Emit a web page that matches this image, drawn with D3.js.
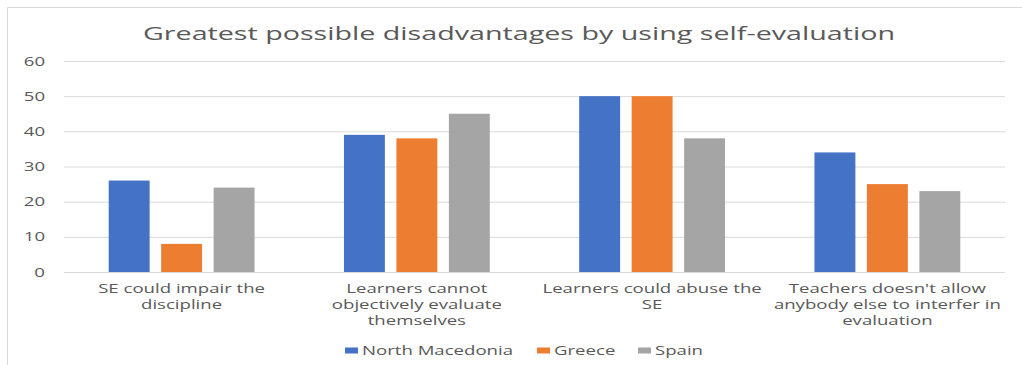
<!DOCTYPE html>
<html>
<head>
<meta charset="utf-8">
<script src="https://cdn.jsdelivr.net/npm/d3@7"></script>
<style>
  html, body { margin: 0; padding: 0; background: #fff; }
  svg { display: block; }
  text { font-family: "Open Sans", "Segoe UI", sans-serif; fill: #595959; }
</style>
</head>
<body>
<svg id="chart" width="1022" height="365"></svg>
<script>
const titleText = "Greatest possible disadvantages by using self-evaluation";
const categories = [
  ["SE could impair the", "discipline"],
  ["Learners cannot", "objectively evaluate", "themselves"],
  ["Learners could abuse the", "SE"],
  ["Teachers doesn't allow", "anybody else to interfer in", "evaluation"]
];
const seriesNames = ["North Macedonia", "Greece", "Spain"];
const northMacedonia = [26, 39, 50, 34];
const greece = [8, 38, 50, 25];
const spain = [24, 45, 38, 23];
const yTicks = [0, 10, 20, 30, 40, 50, 60];
const colors = ["#4472C4", "#ED7D31", "#A5A5A5"];

const seriesValues = [northMacedonia, greece, spain];
const catKeys = categories.map(c => c.join(" "));

const svg = d3.select("#chart");

// chart border (top and left visible)
svg.append("path")
  .attr("d", "M7.5,365 V7.5 H1022")
  .attr("fill", "none").attr("stroke", "#d9d9d9").attr("stroke-width", 1);

const plotLeft = 64, plotRight = 1005, plotTop = 61, plotBottom = 272;

const x0 = d3.scaleBand().domain(catKeys).range([plotLeft, plotRight])
  .paddingInner(0.38).paddingOuter(0.19);
const x1 = d3.scaleBand().domain(seriesNames).range([0, x0.bandwidth()])
  .paddingInner(0.22);
const y = d3.scaleLinear().domain([0, 60]).range([plotBottom, plotTop]);

// helper to stretch text horizontally like the reference
function stretch(sel, k) {
  sel.each(function() {
    const w = this.getComputedTextLength();
    d3.select(this).attr("textLength", w * k).attr("lengthAdjust", "spacingAndGlyphs");
  });
}

// measure factor for small text
const probe = svg.append("text").attr("font-size", 12.5).text("North Macedonia");
const kSmall = 151 / probe.node().getComputedTextLength();
probe.remove();

// gridlines + y labels via axis
const yAxis = d3.axisLeft(y).tickValues(yTicks).tickSize(-(plotRight - plotLeft)).tickPadding(19);
const gY = svg.append("g").attr("transform", `translate(${plotLeft},0)`).call(yAxis);
gY.select(".domain").remove();
gY.selectAll(".tick line").attr("stroke", "#d9d9d9").attr("stroke-width", 1);
gY.selectAll(".tick text").attr("font-size", 12.5).attr("fill", "#595959")
  .attr("font-family", "\"Open Sans\", sans-serif").call(stretch, kSmall);

// bars
const groups = svg.append("g").selectAll("g")
  .data(catKeys).join("g")
  .attr("transform", d => `translate(${x0(d)},0)`);
groups.selectAll("rect")
  .data((d, i) => seriesNames.map((s, j) => ({ s, v: seriesValues[j][i], c: colors[j] })))
  .join("rect")
  .attr("x", d => x1(d.s))
  .attr("width", x1.bandwidth())
  .attr("y", d => y(d.v))
  .attr("height", d => y(0) - y(d.v))
  .attr("fill", d => d.c);

// category labels
const catG = svg.append("g");
categories.forEach((lines, i) => {
  const cx = x0(catKeys[i]) + x0.bandwidth() / 2;
  lines.forEach((ln, j) => {
    catG.append("text")
      .attr("x", cx).attr("y", 293 + j * 16)
      .attr("text-anchor", "middle")
      .attr("font-size", 12.5)
      .text(ln);
  });
});
catG.selectAll("text").call(stretch, kSmall);

// title
const title = svg.append("text")
  .attr("x", 519).attr("y", 40)
  .attr("text-anchor", "middle")
  .attr("font-size", 18.5)
  .text(titleText);
title.attr("textLength", 752).attr("lengthAdjust", "spacingAndGlyphs");

// legend
const legendX = [345, 537, 638];
const legend = svg.append("g");
seriesNames.forEach((s, i) => {
  legend.append("rect")
    .attr("x", legendX[i]).attr("y", 347.5)
    .attr("width", 13).attr("height", 6)
    .attr("fill", colors[i]);
  legend.append("text")
    .attr("x", legendX[i] + 17).attr("y", 355)
    .attr("font-size", 12.5)
    .text(s);
});
legend.selectAll("text").call(stretch, kSmall);
</script>
</body>
</html>
